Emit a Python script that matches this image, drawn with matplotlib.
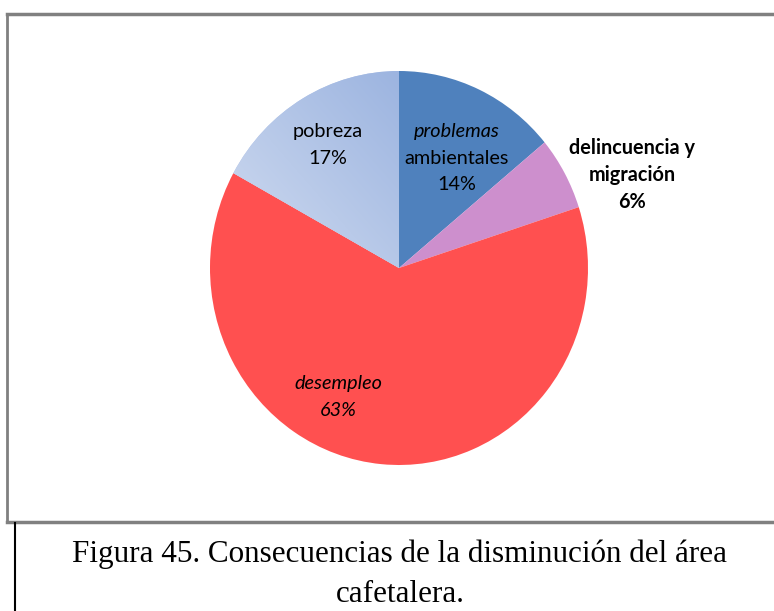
import matplotlib
matplotlib.use("Agg")
import matplotlib.pyplot as plt
import numpy as np
from matplotlib.lines import Line2D

# datos del gráfico
categorias = ["problemas\nambientales", "delincuencia y\nmigración", "desempleo", "pobreza"]
valores = [14, 6, 63, 17]
colores = ["#4F81BD", "#CD8FCD", "#FF5050", "#B4C6EA"]
caption = ["Figura 45. Consecuencias de la disminución del área", "cafetalera."]

W, H = 774, 611
fig = plt.figure(figsize=(W / 100, H / 100), dpi=100)


def fx(px):
    return px / W


def fy(py):
    return 1 - py / H


# eje del pie: centro (399, 268), radios 189 x 197 px
cx, cy, rx, ry = 399, 268, 189, 197
ax = fig.add_axes([fx(cx - rx), fy(cy + ry), 2 * rx / W, 2 * ry / H])
wedges, _ = ax.pie(valores, colors=colores, startangle=90, counterclock=False,
                   radius=1, wedgeprops=dict(linewidth=0))
ax.set_aspect("auto")
ax.axis("off")

# degradado en la porción "pobreza"
g = np.linspace(0, 1, 200)
gx, gy = np.meshgrid(g, g)
t = np.clip((gx + gy) / 2, 0, 1)
c0 = np.array(matplotlib.colors.to_rgb("#D6E0F2"))
c1 = np.array(matplotlib.colors.to_rgb("#9CB4E0"))
img = c0 + (c1 - c0) * t[..., None]
im = ax.imshow(img, extent=(-1, 0, -0.1, 1), origin="lower", zorder=2, aspect="auto")
im.set_clip_path(wedges[3])
ax.set_xlim(-1, 1)
ax.set_ylim(-1, 1)


def dx(px):
    return (px - cx) / rx


def dy(py):
    return (cy - py) / ry


fuente = "Lato"
tam = 14.3
# etiquetas (texto, posición en px, estilo)
ax.text(dx(328), dy(132), "pobreza", ha="center", va="center", fontsize=tam, family=fuente, zorder=5)
ax.text(dx(328), dy(158), f"{valores[3]}%", ha="center", va="center", fontsize=tam, family=fuente, zorder=5)
ax.text(dx(457), dy(132), "problemas", ha="center", va="center", fontsize=tam, family=fuente,
        style="italic", zorder=5)
ax.text(dx(457), dy(158), "ambientales", ha="center", va="center", fontsize=tam, family=fuente, zorder=5)
ax.text(dx(457), dy(184), f"{valores[0]}%", ha="center", va="center", fontsize=tam, family=fuente, zorder=5)
ax.text(dx(632), dy(148), "delincuencia y", ha="center", va="center", fontsize=tam, family=fuente,
        weight="bold", zorder=5, clip_on=False)
ax.text(dx(632), dy(175), "migración", ha="center", va="center", fontsize=tam, family=fuente,
        weight="bold", zorder=5, clip_on=False)
ax.text(dx(632), dy(202), f"{valores[1]}%", ha="center", va="center", fontsize=tam, family=fuente,
        weight="bold", zorder=5, clip_on=False)
ax.text(dx(338), dy(383), "desempleo", ha="center", va="center", fontsize=tam, family=fuente,
        style="italic", zorder=5)
ax.text(dx(338), dy(410), f"{valores[2]}%", ha="center", va="center", fontsize=tam, family=fuente,
        style="italic", zorder=5)

# marco del gráfico
gris = "#808080"
fig.add_artist(Line2D([fx(7), fx(7)], [fy(14), fy(522)], color=gris, lw=2))
fig.add_artist(Line2D([fx(7), 1], [fy(14), fy(14)], color=gris, lw=2.5))
fig.add_artist(Line2D([fx(7), 1], [fy(522), fy(522)], color=gris, lw=2.5))
# recuadro del pie de figura
fig.add_artist(Line2D([fx(14.5), fx(14.5)], [fy(523), 0], color="black", lw=1.5))

fig.text(fx(400), fy(562), caption[0], ha="center", va="baseline", fontsize=22.4,
         family="Liberation Serif")
fig.text(fx(400), fy(602), caption[1], ha="center", va="baseline", fontsize=22.4,
         family="Liberation Serif")

fig.savefig("out.png", dpi=100)
